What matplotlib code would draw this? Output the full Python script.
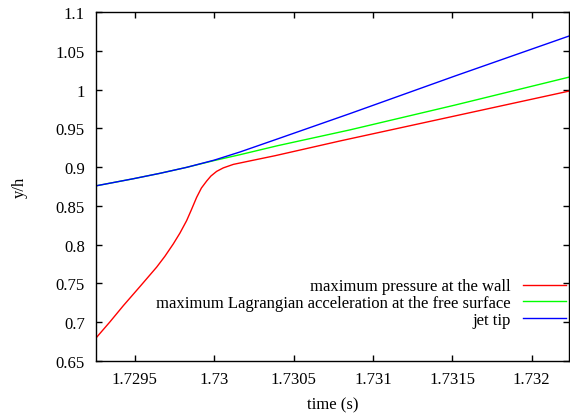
import matplotlib
matplotlib.use("Agg")
import matplotlib.pyplot as plt

# Data (time in s, y/h)
t_red = [1.729259, 1.729343, 1.729427, 1.729532, 1.729637, 1.729689, 1.729742,
         1.729784, 1.729826, 1.729856, 1.729889, 1.729919, 1.729952, 1.729979,
         1.730015, 1.730057, 1.730099, 1.730120, 1.730225, 1.730383, 1.730792,
         1.731517, 1.732235]
y_red = [0.6806, 0.7005, 0.7213, 0.746, 0.771, 0.785, 0.801,
         0.815, 0.831, 0.845, 0.861, 0.873, 0.882, 0.8885,
         0.8945, 0.899, 0.902, 0.9035, 0.908, 0.9147, 0.9337,
         0.966, 0.998]

t_green = [1.729259, 1.729490, 1.729658, 1.729826, 1.730000, 1.730162,
           1.730401, 1.730855, 1.731517, 1.732235]
y_green = [0.876, 0.885, 0.892, 0.8997, 0.9085, 0.916, 0.9277, 0.948, 0.980, 1.016]

t_blue = [1.729259, 1.729490, 1.729658, 1.729826, 1.730000, 1.730162,
          1.730401, 1.730855, 1.731517, 1.732235]
y_blue = [0.876, 0.885, 0.892, 0.8997, 0.909, 0.9195, 0.9365, 0.969, 1.0175, 1.069]

labels = ["maximum pressure at the wall",
          "maximum Lagrangian acceleration at the free surface",
          "jet tip"]

x_ticks = [1.7295, 1.7300, 1.7305, 1.7310, 1.7315, 1.7320]
x_ticklabels = ["1.7295", "1.73", "1.7305", "1.731", "1.7315", "1.732"]
y_ticks = [0.65, 0.70, 0.75, 0.80, 0.85, 0.90, 0.95, 1.00, 1.05, 1.10]
y_ticklabels = ["0.65", "0.7", "0.75", "0.8", "0.85", "0.9", "0.95", "1", "1.05", "1.1"]

plt.rcParams['font.family'] = ['Liberation Serif', 'DejaVu Serif']
plt.rcParams['font.size'] = 12

fig = plt.figure(figsize=(5.70, 4.14), dpi=100)
ax = fig.add_axes([96/570, (414-362)/414, (569-96)/570, (362-13)/414])

ax.plot(t_red, y_red, color='#ff0000', lw=1.0, label=labels[0])
ax.plot(t_green, y_green, color='#00ff00', lw=1.0, label=labels[1])
ax.plot(t_blue, y_blue, color='#0000ff', lw=1.0, label=labels[2])

ax.set_xlim(1.729255, 1.732235)
ax.set_ylim(0.65, 1.1)
ax.set_xticks(x_ticks)
ax.set_xticklabels(x_ticklabels)
ax.set_yticks(y_ticks)
ax.set_yticklabels(y_ticklabels)
ax.tick_params(direction='in', length=4.5, width=1, top=True, right=True, pad=8)
ax.tick_params(axis='x', pad=7)
for s in ax.spines.values():
    s.set_linewidth(1.0)

ax.set_xlabel("time (s)", labelpad=7)
ax.set_ylabel("y/h", labelpad=20)

leg = ax.legend(loc='lower right', bbox_to_anchor=(1.0, 0.085), frameon=False,
                markerfirst=False, handlelength=2.58, handletextpad=0.72,
                labelspacing=0.05, borderaxespad=0.0, borderpad=0.2)

fig.savefig("out.png", dpi=100)
